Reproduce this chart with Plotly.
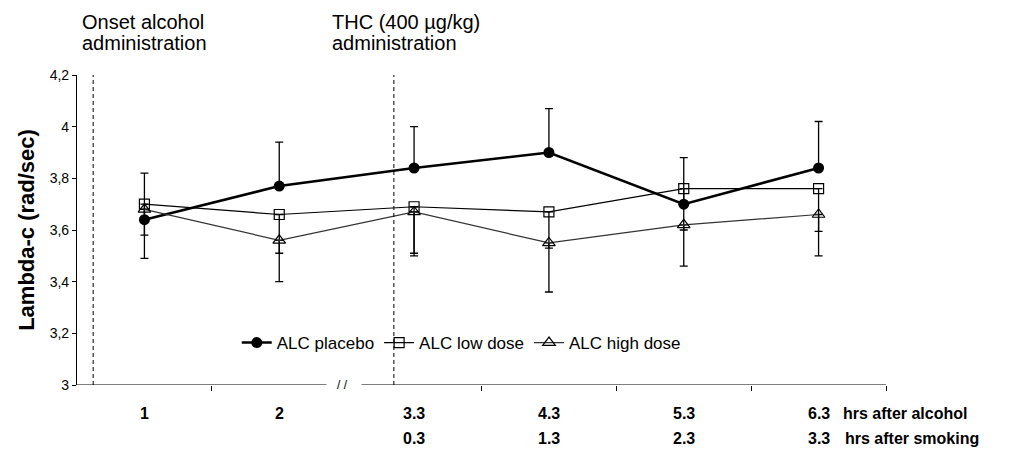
import plotly.graph_objects as go

# ---- data ----
categories_alcohol = ["1", "2", "3.3", "4.3", "5.3", "6.3"]
categories_smoking = ["", "", "0.3", "1.3", "2.3", "3.3"]
x_idx = [0, 1, 2, 3, 4, 5]

placebo = [3.64, 3.77, 3.84, 3.90, 3.70, 3.84]
placebo_err_plus = [0.18, 0.17, 0.16, 0.17, 0.18, 0.18]

low_dose = [3.70, 3.66, 3.69, 3.67, 3.76, 3.76]
low_err_minus = [0.12, 0.15, 0.18, 0.14, 0.16, 0.165]

high_dose = [3.68, 3.56, 3.67, 3.55, 3.62, 3.66]
high_err_minus = [0.19, 0.16, 0.17, 0.19, 0.16, 0.16]

y_ticks = [3, 3.2, 3.4, 3.6, 3.8, 4, 4.2]
boundary_ticks = [0.5, 2.5, 3.5, 4.5, 5.5]

ONSET_X = -0.38      # onset alcohol administration (event marker)
THC_X = 1.85         # THC administration (event marker)
BREAK_LEFT, BREAK_RIGHT, BREAK_MID = 1.35, 1.61, 1.47
X_MIN, X_MAX = -0.5, 5.5
Y_MIN, Y_MAX = 3, 4.2

PAGE_OFFSET = 8  # default body margin of the html page
FIG_W, FIG_H = 1009 - PAGE_OFFSET, 451 - PAGE_OFFSET
M_L, M_T, M_R, M_B = 77 - PAGE_OFFSET, 75 - PAGE_OFFSET, 123, 66
PLOT_H = FIG_H - M_T - M_B

fig = go.Figure()

fig.add_trace(go.Scatter(
    x=x_idx, y=placebo, name="ALC placebo", mode="lines+markers",
    line=dict(color="black", width=2.6),
    marker=dict(symbol="circle", size=11, color="black"),
    error_y=dict(type="data", symmetric=False, array=placebo_err_plus,
                 arrayminus=[0] * len(placebo), color="black", thickness=1.3, width=4),
))
fig.add_trace(go.Scatter(
    x=x_idx, y=low_dose, name="ALC low dose", mode="lines+markers",
    line=dict(color="black", width=1.2),
    marker=dict(symbol="square-open", size=10, color="black", line=dict(width=1.2)),
    error_y=dict(type="data", symmetric=False, array=[0] * len(low_dose),
                 arrayminus=low_err_minus, color="black", thickness=1.3, width=4),
))
fig.add_trace(go.Scatter(
    x=x_idx, y=high_dose, name="ALC high dose", mode="lines+markers",
    line=dict(color="#333333", width=1.2),
    marker=dict(symbol="triangle-up-open", size=11, color="black", line=dict(width=1.2)),
    error_y=dict(type="data", symmetric=False, array=[0] * len(high_dose),
                 arrayminus=high_err_minus, color="black", thickness=1.3, width=4),
))

shapes = []
for xv in (ONSET_X, THC_X):
    shapes.append(dict(type="line", xref="x", yref="y", x0=xv, x1=xv, y0=Y_MIN, y1=Y_MAX,
                       line=dict(color="black", width=1, dash="4px,3px")))
# broken x axis line
shapes.append(dict(type="line", xref="x", yref="y", x0=X_MIN, x1=BREAK_LEFT, y0=Y_MIN, y1=Y_MIN,
                   line=dict(color="black", width=1.2)))
shapes.append(dict(type="line", xref="x", yref="y", x0=BREAK_RIGHT, x1=X_MAX, y0=Y_MIN, y1=Y_MIN,
                   line=dict(color="black", width=1.2)))


def py(pix):
    """page pixel row -> paper y"""
    return (385 - pix) / float(PLOT_H)


annotations = []
font_top = dict(family="Arial, Liberation Sans, sans-serif", size=20, color="black")
annotations += [
    dict(text="Onset alcohol", xref="paper", yref="paper", x=0.0037, y=py(22), xanchor="left",
         yanchor="middle", showarrow=False, font=font_top),
    dict(text="administration", xref="paper", yref="paper", x=0.0037, y=py(43), xanchor="left",
         yanchor="middle", showarrow=False, font=font_top),
    dict(text="THC (400 µg/kg)", xref="paper", yref="paper", x=0.3127, y=py(22), xanchor="left",
         yanchor="middle", showarrow=False, font=font_top),
    dict(text="administration", xref="paper", yref="paper", x=0.3127, y=py(43), xanchor="left",
         yanchor="middle", showarrow=False, font=font_top),
]
font_lab = dict(family="Arial, Liberation Sans, sans-serif", size=16, color="black")
for xi, a, s in zip(x_idx, categories_alcohol, categories_smoking):
    annotations.append(dict(text="<b>%s</b>" % a, xref="x", yref="paper", x=xi, y=py(413),
                            xanchor="center", yanchor="middle", showarrow=False, font=font_lab))
    if s:
        annotations.append(dict(text="<b>%s</b>" % s, xref="x", yref="paper", x=xi, y=py(438),
                                xanchor="center", yanchor="middle", showarrow=False, font=font_lab))
annotations.append(dict(text="<b>hrs after alcohol</b>", xref="x", yref="paper", x=x_idx[-1], y=py(413),
                        xanchor="left", yanchor="middle", xshift=22, showarrow=False, font=font_lab))
annotations.append(dict(text="<b>hrs after smoking</b>", xref="x", yref="paper", x=x_idx[-1], y=py(438),
                        xanchor="left", yanchor="middle", xshift=24, showarrow=False, font=font_lab))
annotations.append(dict(text="/ /", xref="x", yref="y", x=BREAK_MID, y=Y_MIN, xanchor="center",
                        yanchor="middle", showarrow=False,
                        font=dict(family="Arial, Liberation Sans, sans-serif", size=12, color="black")))

fig.update_layout(
    width=FIG_W, height=FIG_H,
    margin=dict(l=M_L, r=M_R, t=M_T, b=M_B, pad=0),
    paper_bgcolor="white", plot_bgcolor="white",
    separators=", ",
    font=dict(family="Arial, Liberation Sans, sans-serif", color="black"),
    showlegend=True,
    legend=dict(orientation="h", x=0.475, y=py(343), xanchor="center", yanchor="middle",
                bgcolor="rgba(0,0,0,0)", font=dict(size=17, color="black"),
                itemwidth=30, tracegroupgap=0),
    shapes=shapes,
    annotations=annotations,
    xaxis=dict(range=[X_MIN, X_MAX], showgrid=False, zeroline=False, showline=False,
               tickmode="array", tickvals=boundary_ticks, ticktext=[""] * len(boundary_ticks),
               ticks="outside", ticklen=5, tickcolor="black", tickwidth=1, showticklabels=False),
    yaxis=dict(range=[Y_MIN, Y_MAX], showgrid=False, zeroline=False, showline=True,
               linecolor="black", linewidth=1.2, tickmode="array", tickvals=y_ticks,
               ticks="outside", ticklen=4, tickcolor="black",
               tickfont=dict(size=14, color="black"),
               title=dict(text="<b>Lambda-c (rad/sec)</b>", font=dict(size=22, color="black"),
                          standoff=8)),
)

fig.write_html("out.html")
